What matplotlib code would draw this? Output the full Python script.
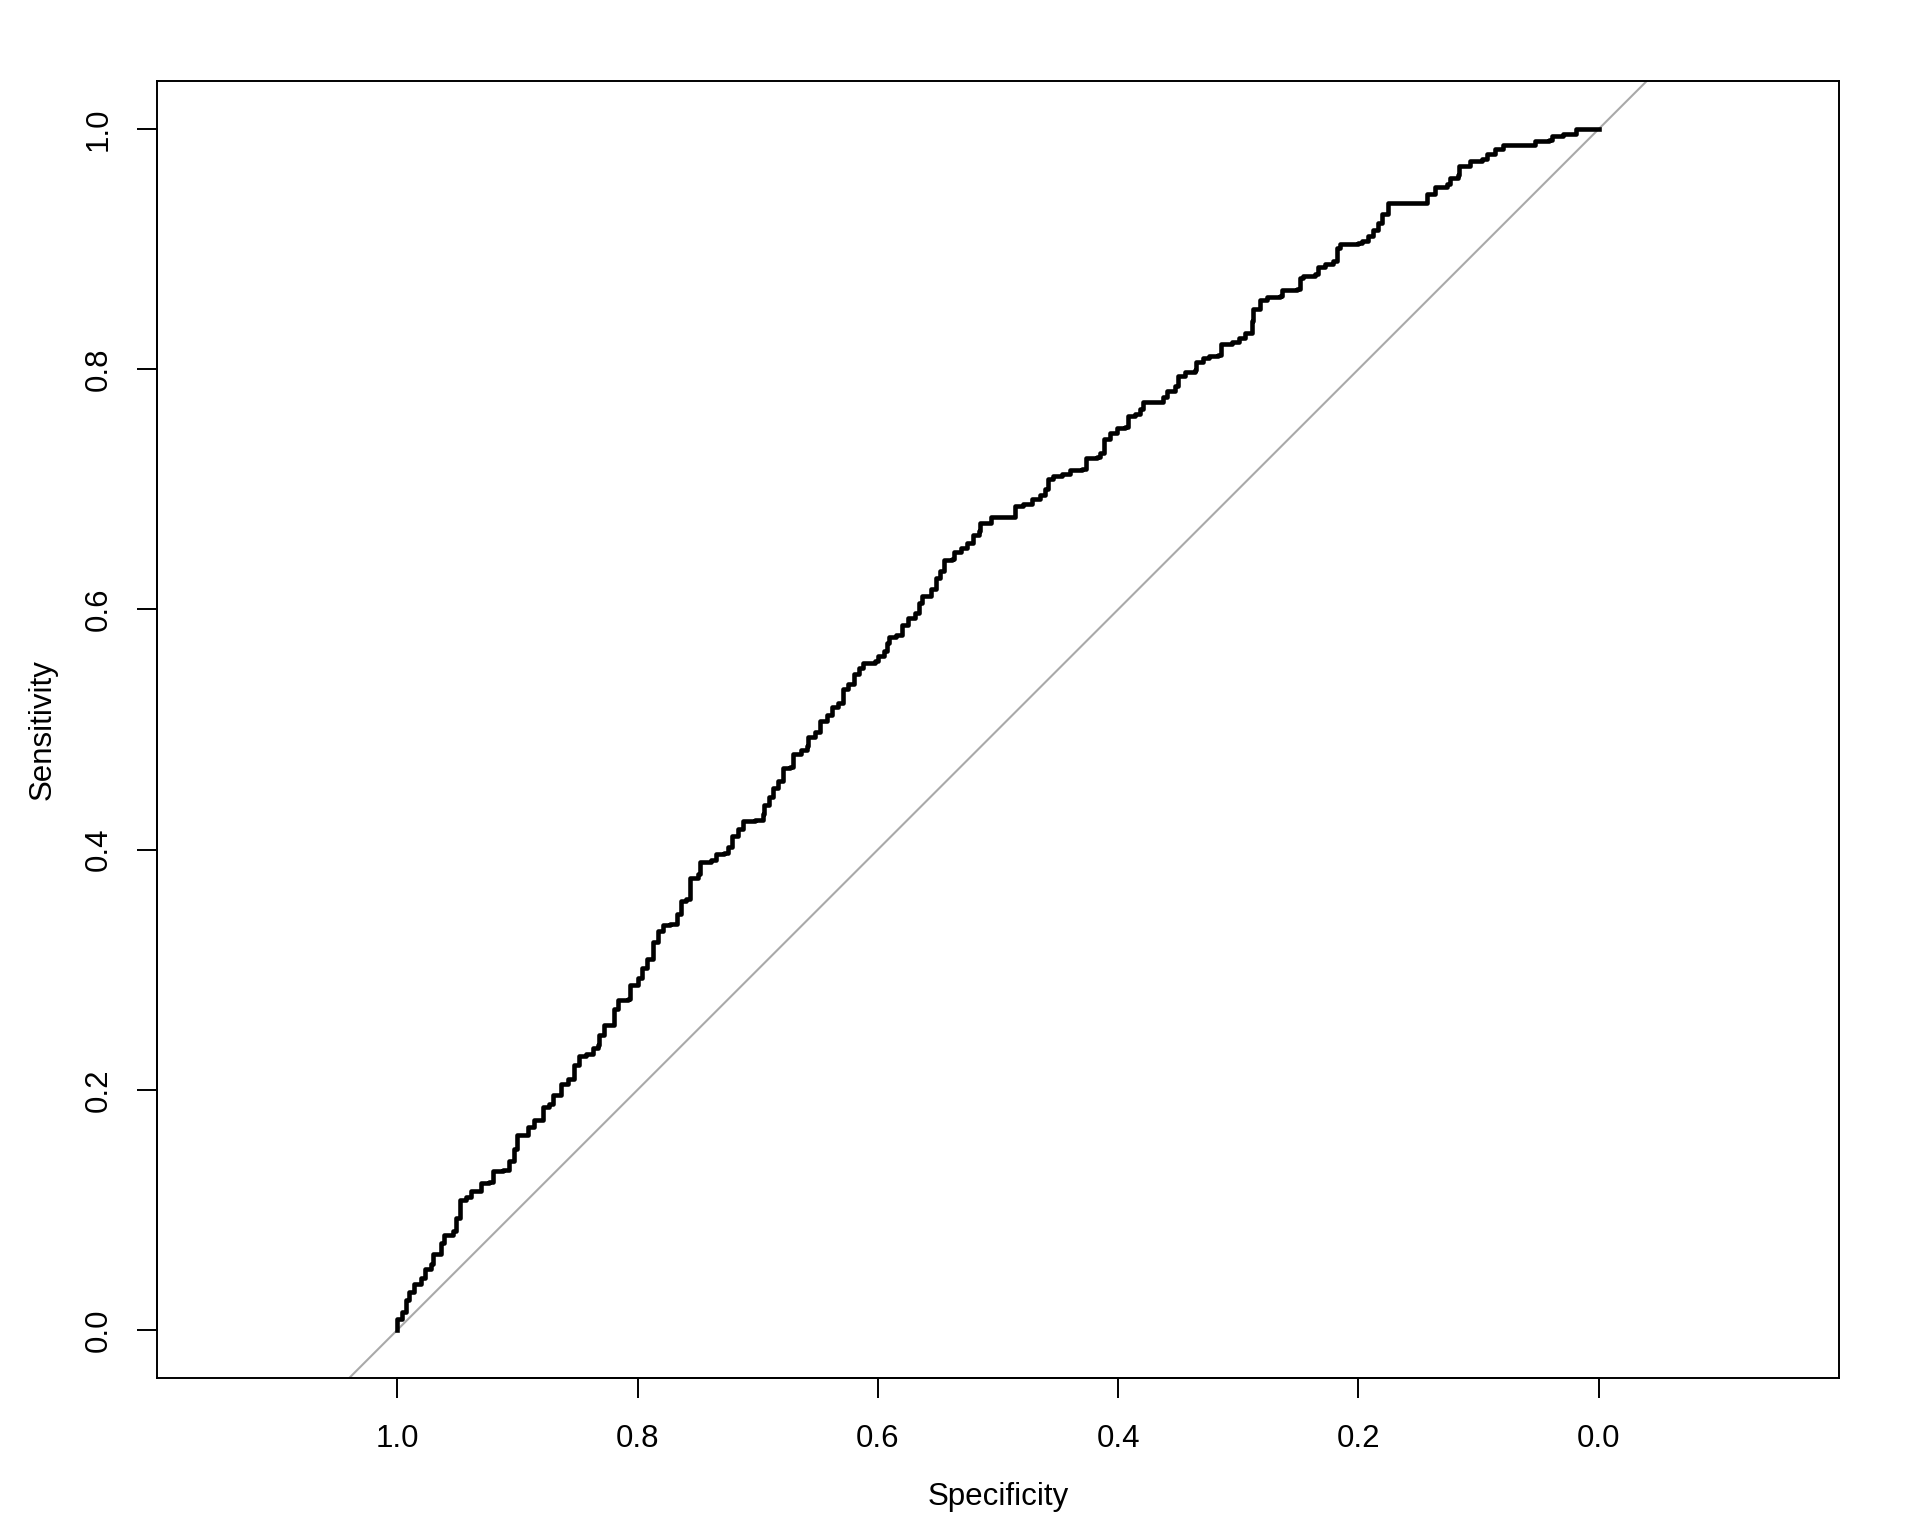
import matplotlib
matplotlib.use('Agg')
import matplotlib.pyplot as plt

# ROC curve values (specificity, sensitivity)
specificity = [1.000, 1.000, 0.996, 0.993, 0.990, 0.986, 0.980, 0.977, 0.972, 0.970,
               0.965, 0.964, 0.961, 0.954, 0.951, 0.948, 0.943, 0.939, 0.930, 0.924,
               0.920, 0.912, 0.907, 0.903, 0.900, 0.891, 0.886, 0.879, 0.874, 0.870,
               0.864, 0.858, 0.853, 0.849, 0.843, 0.837, 0.833, 0.832, 0.828, 0.822,
               0.820, 0.816, 0.808, 0.806, 0.800, 0.796, 0.792, 0.787, 0.783, 0.779,
               0.773, 0.767, 0.764, 0.760, 0.756, 0.750, 0.748, 0.739, 0.735, 0.728,
               0.725, 0.721, 0.716, 0.712, 0.702, 0.696, 0.695, 0.691, 0.687, 0.683,
               0.679, 0.673, 0.671, 0.664, 0.659, 0.658, 0.652, 0.648, 0.642, 0.638,
               0.633, 0.629, 0.625, 0.620, 0.616, 0.612, 0.602, 0.600, 0.595, 0.592,
               0.591, 0.585, 0.580, 0.575, 0.569, 0.566, 0.563, 0.556, 0.552, 0.548,
               0.545, 0.538, 0.537, 0.531, 0.526, 0.521, 0.516, 0.515, 0.508, 0.506,
               0.490, 0.486, 0.479, 0.472, 0.465, 0.461, 0.458, 0.454, 0.447, 0.440,
               0.430, 0.427, 0.418, 0.415, 0.412, 0.407, 0.401, 0.394, 0.392, 0.386,
               0.382, 0.379, 0.371, 0.363, 0.359, 0.353, 0.350, 0.344, 0.336, 0.335,
               0.329, 0.324, 0.317, 0.314, 0.305, 0.299, 0.294, 0.289, 0.288, 0.282,
               0.276, 0.265, 0.264, 0.251, 0.249, 0.246, 0.236, 0.234, 0.228, 0.221,
               0.218, 0.215, 0.200, 0.197, 0.192, 0.188, 0.184, 0.180, 0.175, 0.147,
               0.143, 0.136, 0.126, 0.124, 0.117, 0.116, 0.107, 0.097, 0.093, 0.086,
               0.080, 0.057, 0.053, 0.041, 0.039, 0.030, 0.019, 0.000]
sensitivity = [0.000, 0.009, 0.015, 0.025, 0.032, 0.038, 0.043, 0.051, 0.055, 0.063,
               0.063, 0.072, 0.079, 0.082, 0.093, 0.108, 0.111, 0.116, 0.122, 0.123,
               0.132, 0.133, 0.141, 0.151, 0.162, 0.169, 0.175, 0.186, 0.188, 0.196,
               0.205, 0.209, 0.221, 0.228, 0.230, 0.235, 0.237, 0.246, 0.254, 0.254,
               0.267, 0.275, 0.276, 0.287, 0.293, 0.301, 0.309, 0.323, 0.332, 0.337,
               0.338, 0.346, 0.357, 0.359, 0.376, 0.380, 0.390, 0.391, 0.396, 0.397,
               0.402, 0.411, 0.417, 0.424, 0.425, 0.430, 0.437, 0.444, 0.451, 0.457,
               0.468, 0.469, 0.480, 0.483, 0.486, 0.494, 0.498, 0.507, 0.512, 0.519,
               0.522, 0.534, 0.538, 0.546, 0.551, 0.555, 0.557, 0.561, 0.565, 0.572,
               0.577, 0.579, 0.587, 0.593, 0.597, 0.605, 0.611, 0.617, 0.626, 0.632,
               0.641, 0.642, 0.648, 0.651, 0.655, 0.662, 0.665, 0.672, 0.672, 0.677,
               0.677, 0.686, 0.688, 0.692, 0.695, 0.700, 0.709, 0.711, 0.713, 0.716,
               0.717, 0.726, 0.727, 0.730, 0.742, 0.747, 0.751, 0.752, 0.761, 0.763,
               0.767, 0.773, 0.773, 0.777, 0.782, 0.786, 0.794, 0.798, 0.799, 0.806,
               0.809, 0.811, 0.812, 0.821, 0.823, 0.826, 0.830, 0.840, 0.850, 0.858,
               0.860, 0.861, 0.866, 0.867, 0.876, 0.878, 0.879, 0.885, 0.888, 0.890,
               0.901, 0.904, 0.905, 0.907, 0.911, 0.916, 0.922, 0.929, 0.938, 0.938,
               0.946, 0.952, 0.954, 0.959, 0.962, 0.969, 0.973, 0.975, 0.979, 0.983,
               0.987, 0.987, 0.990, 0.991, 0.994, 0.996, 1.000, 1.000]

tick_values = [1.0, 0.8, 0.6, 0.4, 0.2, 0.0]
tick_labels = ['1.0', '0.8', '0.6', '0.4', '0.2', '0.0']

plt.rcParams['font.family'] = ['Liberation Sans', 'DejaVu Sans']

fig = plt.figure(figsize=(19.2, 15.36), dpi=100)
ax = fig.add_axes([157 / 1920, 1 - 1378 / 1536, (1839 - 157) / 1920, (1378 - 81) / 1536])

# identity line (extends to box edges)
ax.axline((1, 0), (0, 1), color='#a9a9a9', lw=1.5, zorder=1)
ax.plot(specificity, sensitivity, color='black', lw=3.3, drawstyle='steps-post',
        solid_joinstyle='round', zorder=2)

ax.set_xlim(1.2, -0.2)
ax.set_ylim(-0.04, 1.04)

for s in ax.spines.values():
    s.set_linewidth(1.4)

ax.set_xticks(tick_values)
ax.set_xticklabels(tick_labels)
ax.set_yticks(tick_values)
ax.set_yticklabels(tick_labels, rotation=90, va='center')
ax.tick_params(axis='both', length=14.4, width=1.4, labelsize=22.5, color='black')
ax.tick_params(axis='x', pad=19)
ax.tick_params(axis='y', pad=17)

# R draws axis lines over the box between the outer ticks
ax.plot([1, 0], [-0.04, -0.04], color='black', lw=1.4, clip_on=False, zorder=3)
ax.plot([1.2, 1.2], [0, 1], color='black', lw=1.4, clip_on=False, zorder=3)

fig.text(998 / 1920, 1 - 1497 / 1536, 'Specificity', ha='center', va='center', fontsize=22.5)
fig.text(43 / 1920, 1 - 729.5 / 1536, 'Sensitivity', ha='center', va='center',
         rotation=90, fontsize=22.5)

fig.savefig('out.png', dpi=100)
